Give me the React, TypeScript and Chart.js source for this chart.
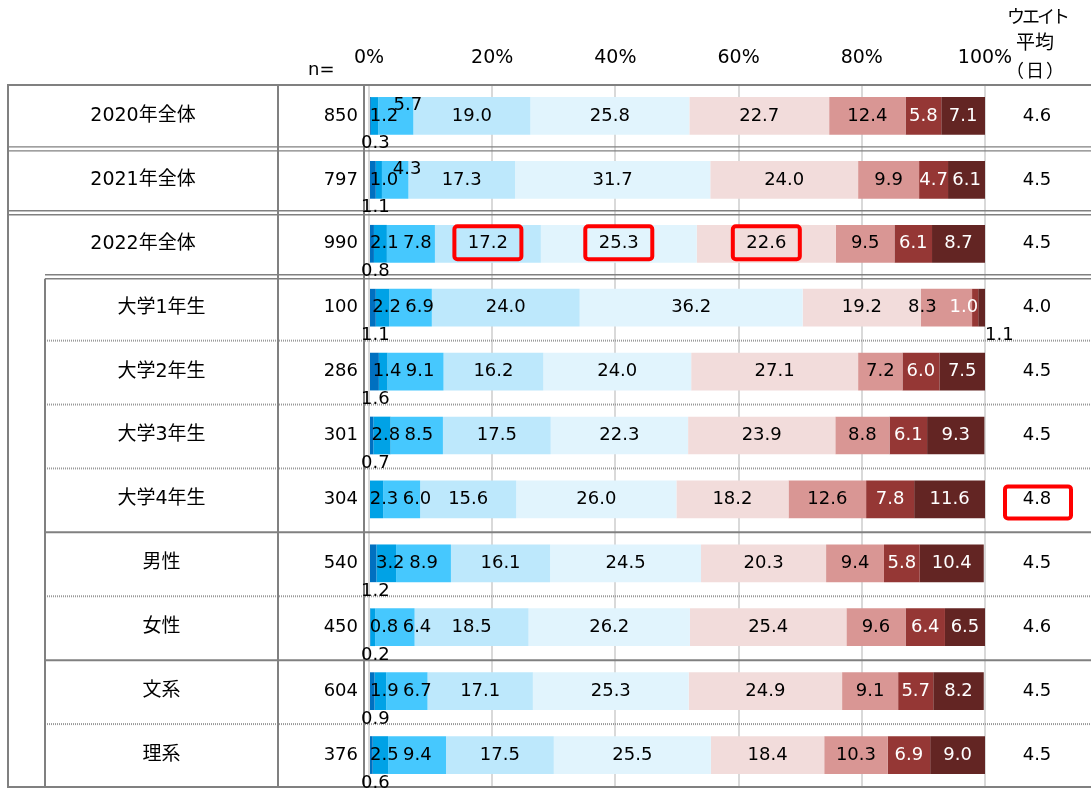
import React, { useEffect, useRef } from 'react';
import { Chart, registerables } from 'chart.js';

Chart.register(...registerables);

// ---------- data ----------
const categories = ['2020年全体', '2021年全体', '2022年全体', '大学1年生', '大学2年生', '大学3年生', '大学4年生', '男性', '女性', '文系', '理系'];
const sampleSizes = [850, 797, 990, 100, 286, 301, 304, 540, 450, 604, 376];
const weightAverages = ['4.6', '4.5', '4.5', '4.0', '4.5', '4.5', '4.8', '4.5', '4.6', '4.5', '4.5'];
const tickValues = [0, 20, 40, 60, 80, 100];

const seriesA = [0.3, 1.1, 0.8, 1.1, 1.6, 0.7, 0.0, 1.2, 0.2, 0.9, 0.6];
const seriesB = [1.2, 1.0, 2.1, 2.2, 1.4, 2.8, 2.3, 3.2, 0.8, 1.9, 2.5];
const seriesC = [5.7, 4.3, 7.8, 6.9, 9.1, 8.5, 6.0, 8.9, 6.4, 6.7, 9.4];
const seriesD = [19.0, 17.3, 17.2, 24.0, 16.2, 17.5, 15.6, 16.1, 18.5, 17.1, 17.5];
const seriesE = [25.8, 31.7, 25.3, 36.2, 24.0, 22.3, 26.0, 24.5, 26.2, 25.3, 25.5];
const seriesF = [22.7, 24.0, 22.6, 19.2, 27.1, 23.9, 18.2, 20.3, 25.4, 24.9, 18.4];
const seriesG = [12.4, 9.9, 9.5, 8.3, 7.2, 8.8, 12.6, 9.4, 9.6, 9.1, 10.3];
const seriesH = [5.8, 4.7, 6.1, 1.0, 6.0, 6.1, 7.8, 5.8, 6.4, 5.7, 6.9];
const seriesI = [7.1, 6.1, 8.7, 1.1, 7.5, 9.3, 11.6, 10.4, 6.5, 8.2, 9.0];

const series = [seriesA, seriesB, seriesC, seriesD, seriesE, seriesF, seriesG, seriesH, seriesI];
const seriesNames = ['区分1', '区分2', '区分3', '区分4', '区分5', '区分6', '区分7', '区分8', '区分9'];

// highlighted (red box) cells: [row, series]
const highlightedCells = [[2, 3], [2, 4], [2, 5]];
const highlightedAverages = [6];

// ---------- styles ----------
const seriesColors = ['#0070C0', '#00A2E6', '#46C8FE', '#BDE8FC', '#E1F4FD', '#F2DCDB', '#D99694', '#953735', '#632523'];
const whiteLabelSeries = [7, 8];
const separatorStyles = ['double', 'double', 'double', 'dot', 'dot', 'dot', 'solid', 'dot', 'solid', 'dot'];
const indentFromRow = 3;

const W = 1091;
const H = 789;
const FONT = '"DejaVu Sans", "Noto Sans CJK JP", sans-serif';
const LINE = '#808080';
const OUTER_LEFT = 8;
const INNER_LEFT = 45;
const LABEL_RIGHT = 278;
const N_RIGHT = 364;
const AVG_CENTER = 1037;

function hline(ctx: CanvasRenderingContext2D, x1: number, x2: number, y: number, style: string) {
  ctx.save();
  if (style === 'double') {
    ctx.strokeStyle = LINE;
    ctx.lineWidth = 1.4;
    [-2, 2].forEach((o) => {
      ctx.beginPath();
      ctx.moveTo(x1, y + o);
      ctx.lineTo(x2, y + o);
      ctx.stroke();
    });
  } else if (style === 'dot') {
    ctx.strokeStyle = '#9a9a9a';
    ctx.lineWidth = 2;
    ctx.setLineDash([1, 1]);
    ctx.beginPath();
    ctx.moveTo(x1, y);
    ctx.lineTo(x2, y);
    ctx.stroke();
  } else {
    ctx.strokeStyle = LINE;
    ctx.lineWidth = 2;
    ctx.beginPath();
    ctx.moveTo(x1, y);
    ctx.lineTo(x2, y);
    ctx.stroke();
  }
  ctx.restore();
}

function vline(ctx: CanvasRenderingContext2D, x: number, y1: number, y2: number) {
  ctx.save();
  ctx.strokeStyle = LINE;
  ctx.lineWidth = 2;
  ctx.beginPath();
  ctx.moveTo(x, y1);
  ctx.lineTo(x, y2);
  ctx.stroke();
  ctx.restore();
}

function redBox(ctx: CanvasRenderingContext2D, cx: number, cy: number, w: number, h: number) {
  ctx.save();
  ctx.strokeStyle = '#FF0000';
  ctx.lineWidth = 4;
  ctx.beginPath();
  (ctx as any).roundRect(cx - w / 2, cy - h / 2, w, h, 3);
  ctx.stroke();
  ctx.restore();
}

const tablePlugin = {
  id: 'tableOverlay',
  afterDatasetsDraw(chart: any) {
    const { ctx, chartArea } = chart;
    const xs = chart.scales.x;
    const ys = chart.scales.y;
    const x0 = xs.getPixelForValue(0);
    const x100 = xs.getPixelForValue(100);
    const rowY = categories.map((_, i) => ys.getPixelForValue(i));
    const top = chartArea.top + 1;
    const bottom = chartArea.bottom;
    const bounds = rowY.slice(0, -1).map((y, i) => (y + rowY[i + 1]) / 2 + 1);

    ctx.save();
    // ---- table lines ----
    hline(ctx, OUTER_LEFT, W, top, 'solid');
    bounds.forEach((b, i) => {
      const left = i + 1 >= indentFromRow ? INNER_LEFT : OUTER_LEFT;
      hline(ctx, left, W, b, separatorStyles[i]);
    });
    hline(ctx, OUTER_LEFT, W, bottom, 'solid');
    vline(ctx, OUTER_LEFT, top - 1, bottom + 1);
    vline(ctx, INNER_LEFT, bounds[indentFromRow - 1] + 2, bottom + 1);
    vline(ctx, LABEL_RIGHT, top - 1, bottom + 1);
    vline(ctx, N_RIGHT, top - 1, bottom + 1);

    // ---- headers ----
    ctx.fillStyle = '#000';
    ctx.textBaseline = 'middle';
    ctx.font = `18px ${FONT}`;
    ctx.textAlign = 'left';
    ctx.fillText('n=', 308, 70);
    ctx.textAlign = 'center';
    ctx.font = `18px ${FONT}`;
    (ctx as any).letterSpacing = '-3px';
    ctx.fillText('ウエイト', 1037, 18);
    (ctx as any).letterSpacing = '0px';
    ctx.font = `19px ${FONT}`;
    ctx.fillText('平均', 1035, 44);
    ctx.font = `18px ${FONT}`;
    (ctx as any).letterSpacing = '2px';
    ctx.fillText('（日）', 1036, 72);
    (ctx as any).letterSpacing = '0px';

    // ---- row labels, n, averages ----
    categories.forEach((cat, i) => {
      const y = rowY[i];
      ctx.font = `19px ${FONT}`;
      ctx.textAlign = 'center';
      const left = i >= indentFromRow ? INNER_LEFT : OUTER_LEFT;
      ctx.fillText(cat, (left + LABEL_RIGHT) / 2, y);
      ctx.font = `18px ${FONT}`;
      ctx.textAlign = 'right';
      ctx.fillText(String(sampleSizes[i]), N_RIGHT - 6, y);
      ctx.textAlign = 'center';
      ctx.fillText(weightAverages[i], AVG_CENTER, y);
      if (highlightedAverages.includes(i)) redBox(ctx, AVG_CENTER + 1, y + 3, 66, 32);
    });

    // ---- data labels ----
    ctx.font = `18px ${FONT}`;
    ctx.textAlign = 'center';
    const n = series.length;
    for (let r = 0; r < categories.length; r++) {
      const placed: any[] = [];
      for (let d = 0; d < n; d++) {
        const v = series[d][r];
        if (!v) {
          placed.push(null);
          continue;
        }
        const el: any = chart.getDatasetMeta(d).data[r];
        const start = Math.min(el.base, el.x);
        const end = Math.min(Math.max(el.base, el.x), x100);
        const c = (start + end) / 2;
        const txt = v.toFixed(1);
        const w = ctx.measureText(txt).width;
        const barBottom = el.y + el.height / 2;
        let cx = c;
        let cy = el.y;
        let outside = false;
        if (d === 0) {
          cx = x0 - 8 + w / 2;
          cy = barBottom + 9;
          outside = true;
        } else if (d === 1) {
          cx = Math.max(c + 4, x0 + 15);
        } else if (d === 2) {
          if (v < 5.8) {
            cx = c + 12;
            cy = el.y - 11;
            outside = true;
          } else {
            const p = placed[1];
            cx = Math.max(c, p ? p.cx + 33 : c);
          }
        } else if (d === n - 1 && v < 2) {
          cx = x100 + w / 2;
          cy = barBottom + 9;
          outside = true;
        } else if (d === n - 2 && v < 2.5) {
          cx = end - w / 2;
        }
        placed.push({ cx, cy, w, txt, color: !outside && whiteLabelSeries.includes(d) ? '#FFFFFF' : '#000000' });
      }
      const pLast2 = placed[n - 2];
      const pLast3 = placed[n - 3];
      if (pLast2 && pLast3 && series[n - 2][r] < 2.5) {
        pLast3.cx = Math.min(pLast3.cx, pLast2.cx - pLast2.w / 2 - 13 - pLast3.w / 2);
      }
      placed.forEach((p, d) => {
        if (!p) return;
        ctx.fillStyle = p.color;
        ctx.fillText(p.txt, p.cx, p.cy);
        if (highlightedCells.some(([hr, hd]) => hr === r && hd === d)) {
          redBox(ctx, p.cx, p.cy - 1, 67, 33);
        }
      });
    }
    ctx.restore();
  },
};

export default function App() {
  const ref = useRef<HTMLCanvasElement>(null);
  useEffect(() => {
    const chart = new Chart(ref.current as HTMLCanvasElement, {
      type: 'bar',
      data: {
        labels: categories,
        datasets: series.map((s, i) => ({
          label: seriesNames[i],
          data: s,
          backgroundColor: seriesColors[i],
          borderWidth: 0,
          barPercentage: 0.59,
          categoryPercentage: 1,
        })),
      },
      options: {
        indexAxis: 'y',
        responsive: false,
        animation: false,
        layout: { padding: { left: 369, right: W - 985, top: 0, bottom: 2 } },
        plugins: { legend: { display: false }, tooltip: { enabled: false } },
        scales: {
          x: {
            position: 'top',
            min: 0,
            max: 100,
            stacked: true,
            afterBuildTicks: (scale: any) => {
              scale.ticks = tickValues.map((v) => ({ value: v }));
            },
            afterFit: (scale: any) => {
              scale.height = 84;
            },
            ticks: {
              callback: (v: any) => `${v}%`,
              font: { family: FONT, size: 19 },
              color: '#000',
              padding: 15,
              maxRotation: 0,
              autoSkip: false,
            },
            grid: { color: '#D9D9D9', lineWidth: 2, drawTicks: false },
            border: { display: false },
          },
          y: {
            stacked: true,
            display: false,
            grid: { display: false },
          },
        },
      },
      plugins: [tablePlugin],
    } as any);
    return () => chart.destroy();
  }, []);
  return (
    <div style={{ position: 'absolute', left: 0, top: 0, width: W, height: H, background: '#fff' }}>
      <canvas ref={ref} width={W} height={H} style={{ width: W, height: H, display: 'block' }} />
    </div>
  );
}
